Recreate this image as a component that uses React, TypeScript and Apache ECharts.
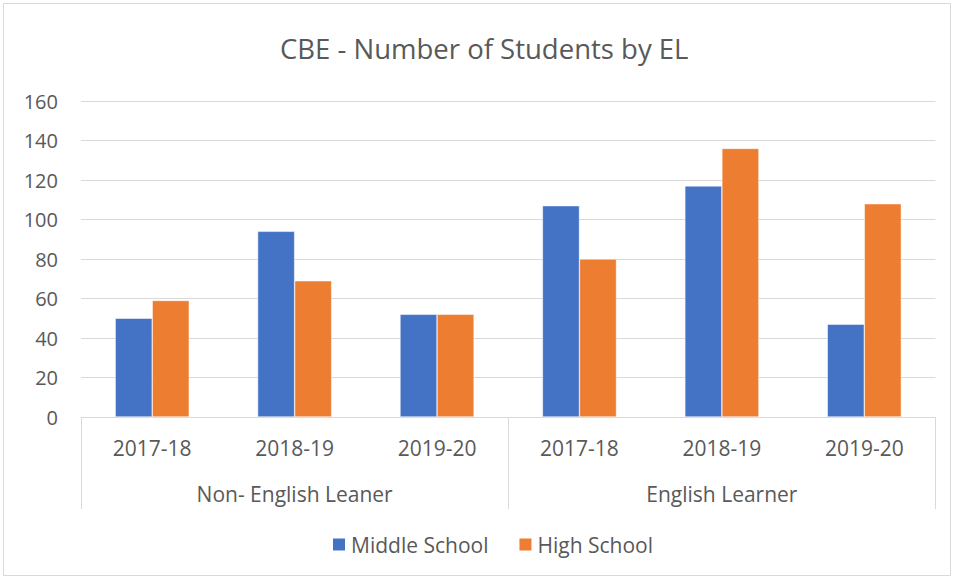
import React, { useEffect, useRef } from "react";
import * as echarts from "echarts";

const title = "CBE - Number of Students by EL";
const years = ["2017-18", "2018-19", "2019-20", "2017-18", "2018-19", "2019-20"];
const groups = ["Non- English Leaner", "English Learner"];
const seriesNames = ["Middle School", "High School"];
const middleSchool = [50, 94, 52, 107, 117, 47];
const highSchool = [59, 69, 52, 80, 136, 108];
const yTicks = { min: 0, max: 160, interval: 20 };

const FONT = "'Open Sans', 'Noto Sans', sans-serif";
const TXT = "#595959";

export default function App() {
  const ref = useRef<HTMLDivElement>(null);
  useEffect(() => {
    if (!ref.current) return;
    const chart = echarts.init(ref.current, undefined, { renderer: "svg" });
    chart.setOption({
      animation: false,
      backgroundColor: "#fff",
      textStyle: { fontFamily: FONT },
      title: {
        text: title,
        left: 280,
        top: 34,
        padding: 0,
        textStyle: { fontFamily: FONT, fontSize: 27.5, fontWeight: "normal", color: TXT },
      },
      graphic: [
        {
          type: "rect",
          shape: { x: 3.5, y: 3.5, width: 947, height: 572 },
          style: { fill: "none", stroke: "#D9D9D9", lineWidth: 1 },
          silent: true,
        },
      ],
      legend: {
        bottom: 18,
        left: 326,
        itemWidth: 14,
        itemHeight: 14,
        itemGap: 29,
        icon: "rect",
        textStyle: { fontFamily: FONT, fontSize: 21, color: TXT },
        data: seriesNames,
      },
      grid: { left: 81, right: 18.5, top: 101, bottom: 161, containLabel: false },
      xAxis: [
        {
          type: "category",
          data: years,
          position: "bottom",
          axisLine: { show: true, lineStyle: { color: "#D9D9D9", width: 1 } },
          axisTick: { show: false },
          axisLabel: { fontFamily: FONT, fontSize: 21, color: TXT, margin: 20.5, interval: 0 },
        },
        {
          type: "category",
          data: groups,
          position: "bottom",
          axisLine: { show: false },
          axisTick: { show: true, length: 92, interval: 0, lineStyle: { color: "#D9D9D9", width: 1 } },
          axisLabel: { fontFamily: FONT, fontSize: 21, color: TXT, margin: 66.5, interval: 0 },
          splitLine: { show: false },
        },
      ],
      yAxis: {
        type: "value",
        min: yTicks.min,
        max: yTicks.max,
        interval: yTicks.interval,
        axisLine: { show: false },
        axisTick: { show: false },
        axisLabel: { fontFamily: FONT, fontSize: 20, color: TXT, margin: 23 },
        splitLine: { lineStyle: { color: "#D9D9D9", width: 1 } },
      },
      series: [
        {
          name: seriesNames[0],
          type: "bar",
          data: middleSchool,
          barGap: "0%",
          barCategoryGap: "48%",
          itemStyle: { color: "#4472C4", borderColor: "#fff", borderWidth: 0.5 },
        },
        {
          name: seriesNames[1],
          type: "bar",
          data: highSchool,
          barGap: "0%",
          barCategoryGap: "48%",
          itemStyle: { color: "#ED7D31", borderColor: "#fff", borderWidth: 0.5 },
        },
      ],
    });
    return () => chart.dispose();
  }, []);
  return (
    <div
      ref={ref}
      style={{ position: "absolute", left: 0, top: 0, width: 954, height: 578 }}
    />
  );
}
